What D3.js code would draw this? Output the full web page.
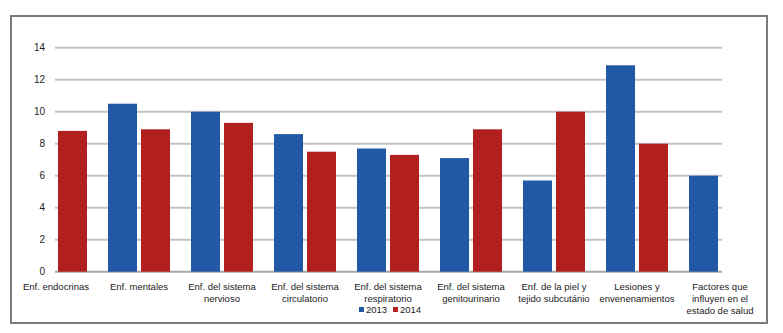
<!DOCTYPE html>
<html>
<head>
<meta charset="utf-8">
<script src="https://cdn.jsdelivr.net/npm/d3@7.9.0/dist/d3.min.js"></script>
<style>
  body { margin: 0; background: #fff; }
  text { font-family: "Liberation Sans", Arial, sans-serif; fill: #222; }
</style>
</head>
<body>
<div id="chart"></div>
<script>
// categories (label lines) and values per year
const categories = [
    ["Enf. endocrinas"],
    ["Enf. mentales"],
    ["Enf. del sistema", "nervioso"],
    ["Enf. del sistema", "circulatorio"],
    ["Enf. del sistema", "respiratorio"],
    ["Enf. del sistema", "genitourinario"],
    ["Enf. de la piel y", "tejido subcutánio"],
    ["Lesiones y", "envenenamientos"],
    ["Factores que", "influyen en el", "estado de salud"]
];
const values2013 = [null, 10.5, 10.0, 8.6, 7.7, 7.1, 5.7, 12.9, 6.0];
const values2014 = [8.8, 8.9, 9.3, 7.5, 7.3, 8.9, 10.0, 8.0, null];
const seriesNames = ["2013", "2014"];
const yTicks = [0, 2, 4, 6, 8, 10, 12, 14];

const colors = {"2013": "#2159a6", "2014": "#b21f1f"};

const width = 783, height = 333;

const svg = d3.select("#chart")
    .append("svg")
    .attr("width", width)
    .attr("height", height);

// outer frame
svg.append("rect")
    .attr("x", 11)
    .attr("y", 16)
    .attr("width", 756)
    .attr("height", 307)
    .attr("fill", "none")
    .attr("stroke", "#7a7a7a")
    .attr("stroke-width", 2);

const plotLeft = 55, plotRight = 722;

// scales
const y = d3.scaleLinear()
    .domain([0, 14])
    .range([271.7, 47.7]);

const x = d3.scaleBand()
    .domain(d3.range(categories.length))
    .range([14.5, 761.5])
    .paddingInner(0)
    .paddingOuter(0);

const xSub = d3.scaleBand()
    .domain(seriesNames)
    .range([x.bandwidth() / 2 - 31, x.bandwidth() / 2 + 31])
    .paddingInner(0.12);

// gridlines
svg.append("g")
    .selectAll("line")
    .data(yTicks)
    .enter().append("line")
    .attr("x1", plotLeft)
    .attr("x2", plotRight)
    .attr("y1", d => y(d))
    .attr("y2", d => y(d))
    .attr("stroke", d => d === 0 ? "#a8a8a8" : "#c4c4c4")
    .attr("stroke-width", 2);

// y axis labels
const yAxis = svg.append("g")
    .attr("transform", `translate(${plotLeft}, 0)`)
    .call(d3.axisLeft(y).tickValues(yTicks).tickSize(0).tickPadding(10));
yAxis.select(".domain").remove();
yAxis.selectAll("text")
    .attr("font-size", "10px")
    .attr("font-family", "Liberation Sans, Arial, sans-serif")
    .attr("fill", "#222");

// bars
const rows = categories.map((c, i) => ({
    i: i,
    vals: [
        {key: "2013", v: values2013[i]},
        {key: "2014", v: values2014[i]}
    ].filter(d => d.v !== null)
}));

const groups = svg.append("g")
    .selectAll("g")
    .data(rows)
    .enter().append("g")
    .attr("transform", d => `translate(${x(d.i)},0)`);

groups.selectAll("rect")
    .data(d => d.vals)
    .enter().append("rect")
    .attr("x", d => xSub(d.key))
    .attr("y", d => y(d.v))
    .attr("width", xSub.bandwidth())
    .attr("height", d => y(0) - y(d.v))
    .attr("fill", d => colors[d.key]);

// category labels
const labels = svg.append("g")
    .selectAll("text")
    .data(categories)
    .enter().append("text")
    .attr("x", (d, i) => x(i) + x.bandwidth() / 2)
    .attr("y", 290)
    .attr("text-anchor", "middle")
    .attr("font-size", "9.5px");

labels.selectAll("tspan")
    .data(d => d)
    .enter().append("tspan")
    .attr("x", function() { return d3.select(this.parentNode).attr("x"); })
    .attr("dy", (d, i) => i === 0 ? 0 : 12)
    .text(d => d);

// legend
const legend = svg.append("g")
    .attr("transform", "translate(359, 313)");

const legendItems = legend.selectAll("g")
    .data(seriesNames)
    .enter().append("g")
    .attr("transform", (d, i) => `translate(${i * 34}, 0)`);

legendItems.append("rect")
    .attr("x", 0)
    .attr("y", -6)
    .attr("width", 5)
    .attr("height", 5)
    .attr("fill", d => colors[d]);

legendItems.append("text")
    .attr("x", 7)
    .attr("y", 0)
    .attr("font-size", "9.5px")
    .text(d => d);
</script>
</body>
</html>
